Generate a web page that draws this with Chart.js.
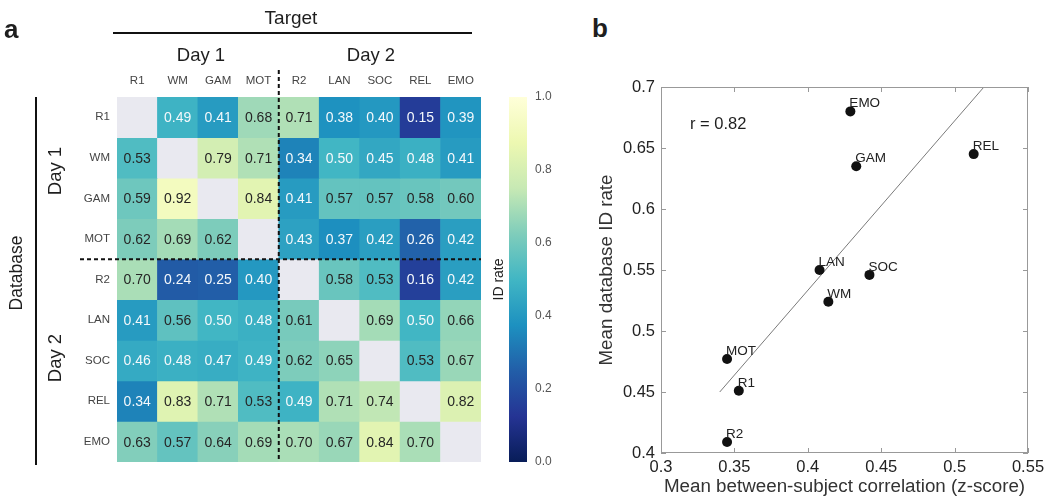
<!DOCTYPE html>
<html><head><meta charset="utf-8">
<script src="https://cdn.jsdelivr.net/npm/chart.js@4/dist/chart.umd.min.js"></script>
<style>
body{margin:0;background:#fff;}
#wrap{position:relative;width:1050px;height:504px;overflow:hidden;font-family:"Liberation Sans",Arial,sans-serif;color:#1e1e1e;}
canvas{position:absolute;}
.t{position:absolute;white-space:nowrap;line-height:1;}
.c{transform:translate(-50%,-50%);}
.v{transform:translate(-50%,-50%) rotate(-90deg);}
.ln{position:absolute;background:#111;}
</style></head><body>
<div id="wrap">
  <canvas id="heat" width="490" height="504" style="left:0;top:0"></canvas>
  <canvas id="cbar" width="72" height="400" style="left:488px;top:80px"></canvas>
  <canvas id="scat" width="465" height="434" style="left:585px;top:70px"></canvas>

  <div class="t" style="left:4px;top:16px;font-size:26px;font-weight:bold;">a</div>
  <div class="t" style="left:592px;top:15px;font-size:26px;font-weight:bold;">b</div>
  <div class="t c" style="left:291px;top:17px;font-size:19px;">Target</div>
  <div class="ln" style="left:113px;top:32px;width:359px;height:2px;"></div>
  <div class="t c" style="left:201px;top:55px;font-size:18.5px;">Day 1</div>
  <div class="t c" style="left:371px;top:55px;font-size:18.5px;">Day 2</div>
  <div class="t v" style="left:17px;top:273px;font-size:17.5px;">Database</div>
  <div class="ln" style="left:35px;top:97px;width:2px;height:368px;"></div>
  <div class="t v" style="left:55px;top:171px;font-size:18.5px;">Day 1</div>
  <div class="t v" style="left:55px;top:358px;font-size:18.5px;">Day 2</div>
  <div class="t" style="left:690px;top:123px;transform:translateY(-50%);font-size:16.5px;">r = 0.82</div>
</div>
<script>
// ---------------- data ----------------
const colLabels = ['R1','WM','GAM','MOT','R2','LAN','SOC','REL','EMO'];
const rowLabels = ['R1','WM','GAM','MOT','R2','LAN','SOC','REL','EMO'];
const rowR1  = [null,0.49,0.41,0.68,0.71,0.38,0.40,0.15,0.39];
const rowWM  = [0.53,null,0.79,0.71,0.34,0.50,0.45,0.48,0.41];
const rowGAM = [0.59,0.92,null,0.84,0.41,0.57,0.57,0.58,0.60];
const rowMOT = [0.62,0.69,0.62,null,0.43,0.37,0.42,0.26,0.42];
const rowR2  = [0.70,0.24,0.25,0.40,null,0.58,0.53,0.16,0.42];
const rowLAN = [0.41,0.56,0.50,0.48,0.61,null,0.69,0.50,0.66];
const rowSOC = [0.46,0.48,0.47,0.49,0.62,0.65,null,0.53,0.67];
const rowREL = [0.34,0.83,0.71,0.53,0.49,0.71,0.74,null,0.82];
const rowEMO = [0.63,0.57,0.64,0.69,0.70,0.67,0.84,0.70,null];
const matrix = [rowR1,rowWM,rowGAM,rowMOT,rowR2,rowLAN,rowSOC,rowREL,rowEMO];
const cbarTicks = [0,0.2,0.4,0.6,0.8,1.0];

const tasks  = ['R1','WM','GAM','MOT','R2','LAN','SOC','REL','EMO'];
const corr   = [0.353,0.414,0.433,0.345,0.345,0.408,0.442,0.513,0.429];
const meanID = [0.451,0.524,0.635,0.477,0.409,0.550,0.546,0.645,0.680];
const fitX = [0.34,0.52];
const fitY = [0.45,0.70];
const xTicks = [0.3,0.35,0.4,0.45,0.5,0.55];
const yTicks = [0.4,0.45,0.5,0.55,0.6,0.65,0.7];

// ---------------- colour map (YlGnBu, value 0 -> 1) ----------------
const ylStops = ['#081d58','#253494','#225ea8','#1d91c0','#41b6c4','#7fcdbb','#c7e9b4','#edf8b1','#ffffd9'];
function hex2rgb(h){return [1,3,5].map(i=>parseInt(h.substr(i,2),16));}
function ylgnbu(v){
  const t=Math.max(0,Math.min(1,v))*(ylStops.length-1);
  const i=Math.min(ylStops.length-2,Math.floor(t)), f=t-i;
  const a=hex2rgb(ylStops[i]), b=hex2rgb(ylStops[i+1]);
  const c=a.map((x,k)=>Math.round(x+(b[k]-x)*f));
  return 'rgb('+c.join(',')+')';
}

Chart.defaults.font.family='"Liberation Sans", Arial, sans-serif';
Chart.defaults.color='#333';
Chart.defaults.animation=false;

// ---------------- heatmap ----------------
const heatPlugin={
  id:'heatText',
  afterDatasetsDraw(chart){
    const ctx=chart.ctx;
    ctx.save();
    ctx.font='14px "Liberation Sans", Arial, sans-serif';
    ctx.textAlign='center'; ctx.textBaseline='middle';
    chart.data.datasets.forEach((ds,i)=>{
      const meta=chart.getDatasetMeta(i);
      meta.data.forEach((el,j)=>{
        const v=matrix[i][j]; if(v==null) return;
        ctx.fillStyle = v<0.52 ? '#f4f8fb' : '#262626';
        ctx.fillText(v.toFixed(2), el.x, (el.y+el.base)/2+1);
      });
    });
    const xs=chart.scales.x, ys=chart.scales.y, a=chart.chartArea;
    const xb=(xs.getPixelForValue(3)+xs.getPixelForValue(4))/2;
    const yb=ys.getPixelForValue(4);
    ctx.strokeStyle='#111'; ctx.lineWidth=2; ctx.setLineDash([4,3]);
    ctx.beginPath(); ctx.moveTo(xb,70); ctx.lineTo(xb,a.bottom); ctx.stroke();
    ctx.beginPath(); ctx.moveTo(80,yb); ctx.lineTo(a.right,yb); ctx.stroke();
    ctx.restore();
  }
};
new Chart(document.getElementById('heat'),{
  type:'bar',
  data:{
    labels:colLabels,
    datasets:matrix.map((row,r)=>({
      label:rowLabels[r],
      data:row.map(()=>[r,r+1]),
      backgroundColor:row.map(v=>v==null?'#e9e9f0':ylgnbu(v)),
      borderWidth:0, grouped:false, barPercentage:1, categoryPercentage:1
    }))
  },
  options:{
    responsive:false, devicePixelRatio:1,
    layout:{padding:{left:60,top:60,right:9,bottom:42}},
    plugins:{legend:{display:false},tooltip:{enabled:false}},
    scales:{
      x:{type:'category',position:'top',afterFit(s){s.height=37;},
         grid:{display:false,drawTicks:false},border:{display:false},
         ticks:{font:{size:11.5},color:'#444',padding:9,maxRotation:0,autoSkip:false}},
      y:{type:'linear',min:0,max:9,reverse:true,afterFit(s){s.width=57;},
         afterBuildTicks(s){s.ticks=rowLabels.map((_,i)=>({value:i+0.5}));},
         grid:{display:false,drawTicks:false},border:{display:false},
         ticks:{font:{size:11.5},color:'#444',padding:7,autoSkip:false,
                callback:(v)=>rowLabels[Math.floor(v)]}}
    }
  },
  plugins:[heatPlugin]
});

// ---------------- colour bar ----------------
new Chart(document.getElementById('cbar'),{
  type:'bar',
  data:{labels:['ID rate'],datasets:[{
    data:[[0,1]], yAxisID:'y', borderWidth:0, barPercentage:1, categoryPercentage:1,
    backgroundColor(c){
      const ch=c.chart, a=ch.chartArea; if(!a) return '#ccc';
      const g=ch.ctx.createLinearGradient(0,a.bottom,0,a.top);
      ylStops.forEach((s,i)=>g.addColorStop(i/(ylStops.length-1),s));
      return g;
    }
  }]},
  options:{
    responsive:false, devicePixelRatio:1,
    layout:{padding:{top:17,bottom:18,left:0,right:0}},
    plugins:{legend:{display:false},tooltip:{enabled:false}},
    scales:{
      x:{display:false},
      y:{position:'right',min:0,max:1,afterFit(s){s.width=33;},
         afterBuildTicks(s){s.ticks=cbarTicks.map(v=>({value:v}));},
         grid:{display:false,drawTicks:false},border:{display:false},
         ticks:{callback:v=>v.toFixed(1),font:{size:12},color:'#555',padding:8}},
      yl:{position:'left',min:0,max:1,afterFit(s){s.width=21;},
         grid:{display:false,drawTicks:false},border:{display:false},
         ticks:{display:false},
         title:{display:true,text:'ID rate',font:{size:14},color:'#222',padding:{top:3,bottom:0}}}
    }
  }
});

// ---------------- scatter ----------------
const fmt=v=>String(+(+v).toFixed(2));
const boxPlugin={
  id:'boxTicks',
  afterDatasetsDraw(chart){
    const ctx=chart.ctx, a=chart.chartArea, xs=chart.scales.x, ys=chart.scales.y;
    ctx.save();
    ctx.fillStyle='#222'; ctx.font='13.5px "Liberation Sans", Arial, sans-serif';
    ctx.textAlign='left'; ctx.textBaseline='alphabetic';
    chart.getDatasetMeta(0).data.forEach((el,i)=>{ctx.fillText(tasks[i], el.x-1, el.y-4);});
    ctx.strokeStyle='#999'; ctx.lineWidth=1;
    ctx.strokeRect(Math.round(a.left)+0.5,Math.round(a.top)+0.5,Math.round(a.right-a.left)-1,Math.round(a.bottom-a.top)-1);
    ctx.beginPath();
    xs.ticks.forEach(t=>{const p=Math.round(xs.getPixelForValue(t.value))+0.5;
      ctx.moveTo(p,a.bottom); ctx.lineTo(p,a.bottom-5); ctx.moveTo(p,a.top); ctx.lineTo(p,a.top+5);});
    ys.ticks.forEach(t=>{const p=Math.round(ys.getPixelForValue(t.value))+0.5;
      ctx.moveTo(a.left,p); ctx.lineTo(a.left+5,p); ctx.moveTo(a.right,p); ctx.lineTo(a.right-5,p);});
    ctx.stroke();
    ctx.restore();
  }
};
new Chart(document.getElementById('scat'),{
  type:'scatter',
  data:{datasets:[
    {type:'scatter',data:tasks.map((t,i)=>({x:corr[i],y:meanID[i]})),
     pointRadius:5,pointBackgroundColor:'#111',pointBorderWidth:0,order:0},
    {type:'line',data:fitX.map((x,i)=>({x:x,y:fitY[i]})),
     borderColor:'#7a7a7a',borderWidth:1,pointRadius:0,fill:false,order:1}
  ]},
  options:{
    responsive:false, devicePixelRatio:1,
    layout:{padding:{left:0,top:17,right:22,bottom:0}},
    plugins:{legend:{display:false},tooltip:{enabled:false}},
    scales:{
      x:{type:'linear',min:0.3,max:0.55,afterFit(s){s.height=51;},
         afterBuildTicks(s){s.ticks=xTicks.map(v=>({value:v}));},
         grid:{display:false,drawTicks:false},border:{display:false},
         ticks:{callback:fmt,font:{size:16.5},color:'#222',padding:5,maxRotation:0},
         title:{display:true,text:'Mean between-subject correlation (z-score)',font:{size:18.8},color:'#333',padding:{top:0,bottom:5.7}}},
      y:{type:'linear',min:0.4,max:0.7,afterFit(s){s.width=76;},
         afterBuildTicks(s){s.ticks=yTicks.map(v=>({value:v}));},
         grid:{display:false,drawTicks:false},border:{display:false},
         ticks:{callback:fmt,font:{size:16.5},color:'#222',padding:6},
         title:{display:true,text:'Mean database ID rate',font:{size:18.8},color:'#333',padding:{top:10.7,bottom:0}}}
    }
  },
  plugins:[boxPlugin]
});
</script>
</body></html>
